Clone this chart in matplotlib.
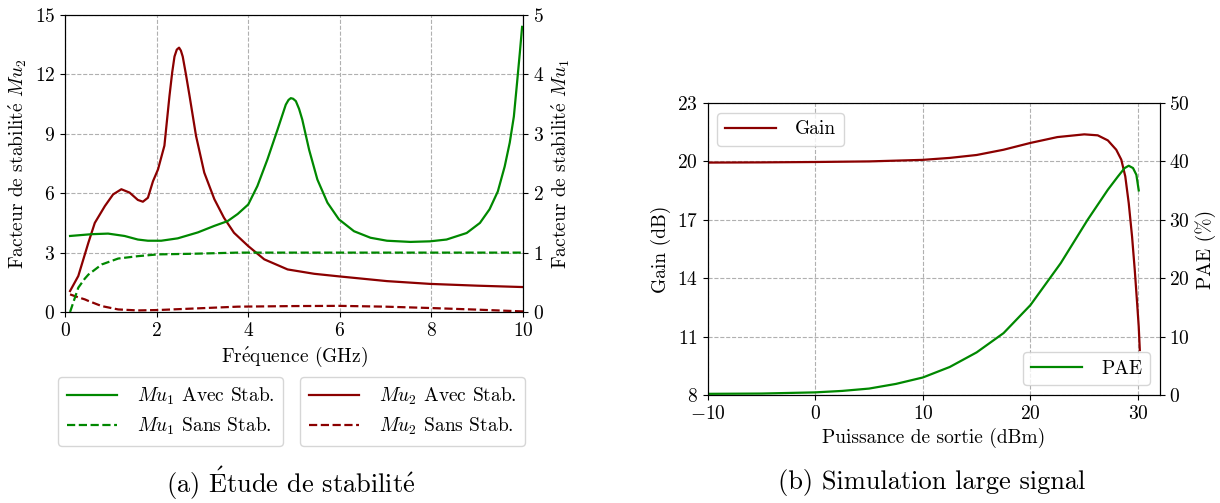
import numpy as np
import matplotlib
matplotlib.use("Agg")
import matplotlib.pyplot as plt

plt.rcParams['font.family'] = ['cmr10', 'DejaVu Serif']
plt.rcParams['mathtext.fontset'] = 'cm'
plt.rcParams['axes.formatter.use_mathtext'] = True
plt.rcParams['font.size'] = 14

# ---- (a) stability data ----
f_mu2 = [0.11, 0.29, 0.51, 0.65, 0.87, 1.05, 1.23, 1.41, 1.59, 1.70, 1.81, 1.92, 2.03, 2.17, 2.28, 2.34, 2.39,
         2.44, 2.49, 2.53, 2.57, 2.64, 2.72, 2.86, 3.04, 3.26, 3.47, 3.69, 4.0, 4.35, 4.86, 5.44, 5.98, 7.03,
         7.97, 9.0, 10.0]
mu2_avec = [1.06, 1.82, 3.5, 4.5, 5.35, 5.94, 6.2, 6.03, 5.66, 5.57, 5.77, 6.6, 7.2, 8.4, 10.9, 12.1, 12.9,
            13.25, 13.35, 13.2, 12.9, 12.0, 10.9, 8.9, 7.04, 5.7, 4.76, 4.0, 3.33, 2.66, 2.15, 1.93, 1.8, 1.56,
            1.42, 1.33, 1.26]

f_mu1 = [0.11, 0.58, 0.94, 1.3, 1.59, 1.81, 2.1, 2.46, 2.9, 3.26, 3.55, 3.77, 4.0, 4.2, 4.42, 4.64, 4.82, 4.88,
         4.93, 4.98, 5.04, 5.11, 5.18, 5.33, 5.51, 5.73, 5.98, 6.31, 6.67, 7.03, 7.54, 7.97, 8.33, 8.77, 9.06,
         9.27, 9.45, 9.6, 9.71, 9.8, 9.87, 9.93, 9.98]
mu1_avec = [1.28, 1.31, 1.32, 1.28, 1.22, 1.2, 1.2, 1.24, 1.34, 1.45, 1.53, 1.65, 1.81, 2.12, 2.57, 3.07, 3.49,
            3.57, 3.6, 3.59, 3.55, 3.42, 3.24, 2.73, 2.23, 1.84, 1.56, 1.36, 1.25, 1.2, 1.18, 1.19, 1.22, 1.33,
            1.5, 1.73, 2.03, 2.45, 2.85, 3.29, 3.86, 4.36, 4.8]

f_sans = [0.11, 0.29, 0.43, 0.51, 0.8, 1.16, 1.59, 2.03, 2.75, 3.77, 5.0, 6.0, 7.0, 8.0, 9.0, 10.0]
mu1_sans = [0.0, 0.41, 0.56, 0.63, 0.8, 0.9, 0.94, 0.97, 0.98, 1.0, 1.0, 1.0, 1.0, 1.0, 1.0, 1.0]
mu2_sans = [0.89, 0.74, 0.64, 0.56, 0.3, 0.13, 0.08, 0.1, 0.17, 0.27, 0.3, 0.31, 0.27, 0.2, 0.12, 0.03]

# ---- (b) large signal data ----
p_gain = [-10, -5, 0, 5, 10, 12.5, 15, 17.5, 20, 22.5, 25, 26.25, 27.19, 27.97, 28.44, 28.81, 29.13, 29.44,
          29.69, 29.91, 30.06, 30.16]
gain = [19.94, 19.95, 19.97, 20.0, 20.08, 20.18, 20.33, 20.6, 20.95, 21.25, 21.39, 21.34, 21.08, 20.6, 20.09,
        19.23, 17.86, 16.14, 14.43, 12.72, 11.51, 10.31]
p_pae = [-10, -5, 0, 2.5, 5, 7.5, 10, 12.5, 15, 17.5, 20, 22.81, 25.31, 27.19, 28.13, 28.75, 29.13, 29.53,
         29.84, 30.06]
pae = [0.2, 0.25, 0.45, 0.7, 1.1, 1.9, 3.0, 4.8, 7.3, 10.6, 15.4, 22.57, 30.0, 35.15, 37.43, 38.86, 39.26, 38.86,
       37.71, 35.03]

red = '#8b0000'
green = '#008800'

fig = plt.figure(figsize=(12.2, 5.03), dpi=100)

# (a)
ax1 = fig.add_axes([0.0533, 0.3797, 0.3754, 0.5905])
ax1b = ax1.twinx()
l3, = ax1.plot(f_mu2, mu2_avec, color=red, lw=1.6)
l4, = ax1.plot(f_sans, mu2_sans, color=red, lw=1.6, ls='--')
l1, = ax1b.plot(f_mu1, mu1_avec, color=green, lw=1.6)
l2, = ax1b.plot(f_sans, mu1_sans, color=green, lw=1.6, ls='--')
ax1.set_xlim(0, 10)
ax1.set_ylim(0, 15)
ax1b.set_ylim(0, 5)
ax1.set_yticks([0, 3, 6, 9, 12, 15])
ax1b.set_yticks([0, 1, 2, 3, 4, 5])
ax1.set_xticks([0, 2, 4, 6, 8, 10])
ax1.grid(True, ls='--', color='#b0b0b0', lw=0.8)
ax1.set_xlabel(r'Fr$\mathrm{\acute{e}}$quence (GHz)')
ax1.set_ylabel(r'Facteur de stabilit$\mathrm{\acute{e}}$ $Mu_2$')
ax1b.set_ylabel(r'Facteur de stabilit$\mathrm{\acute{e}}$ $Mu_1$')

leg_kw = dict(fontsize=14, handlelength=2.6, handletextpad=1.0, framealpha=0.8, borderaxespad=0,
              edgecolor='#cccccc', borderpad=0.45, labelspacing=0.45)
fig.legend([l1, l2], ['$Mu_1$ Avec Stab.', '$Mu_1$ Sans Stab.'],
           loc='upper left', bbox_to_anchor=(0.0475, 0.25), **leg_kw)
fig.legend([l3, l4], ['$Mu_2$ Avec Stab.', '$Mu_2$ Sans Stab.'],
           loc='upper left', bbox_to_anchor=(0.246, 0.25), **leg_kw)
fig.text(0.238, 0.04, r'(a) $\mathrm{\acute{E}}$tude de stabilit$\mathrm{\acute{e}}$', ha='center', va='center',
         fontsize=19)

# (b)
ax2 = fig.add_axes([0.580, 0.2147, 0.3705, 0.5805])
ax2b = ax2.twinx()
g, = ax2.plot(p_gain, gain, color=red, lw=1.6, label='Gain')
p, = ax2b.plot(p_pae, pae, color=green, lw=1.6, label='PAE')
ax2.set_xlim(-10, 32)
ax2.set_ylim(8, 23)
ax2b.set_ylim(0, 50)
ax2.set_yticks([8, 11, 14, 17, 20, 23])
ax2b.set_yticks([0, 10, 20, 30, 40, 50])
ax2.set_xticks([-10, 0, 10, 20, 30])
ax2.grid(True, ls='--', color='#b0b0b0', lw=0.8)
ax2.set_xlabel('Puissance de sortie (dBm)')
ax2.set_ylabel('Gain (dB)')
ax2b.set_ylabel('PAE (%)')
ax2.legend(loc='upper left', fontsize=14, handlelength=2.6, handletextpad=1.0, edgecolor='#cccccc')
ax2b.legend(loc='lower right', fontsize=14, handlelength=2.6, handletextpad=1.0, edgecolor='#cccccc')
fig.text(0.764, 0.04, '(b) Simulation large signal', ha='center', va='center', fontsize=19)

fig.savefig('out.png', dpi=100)
